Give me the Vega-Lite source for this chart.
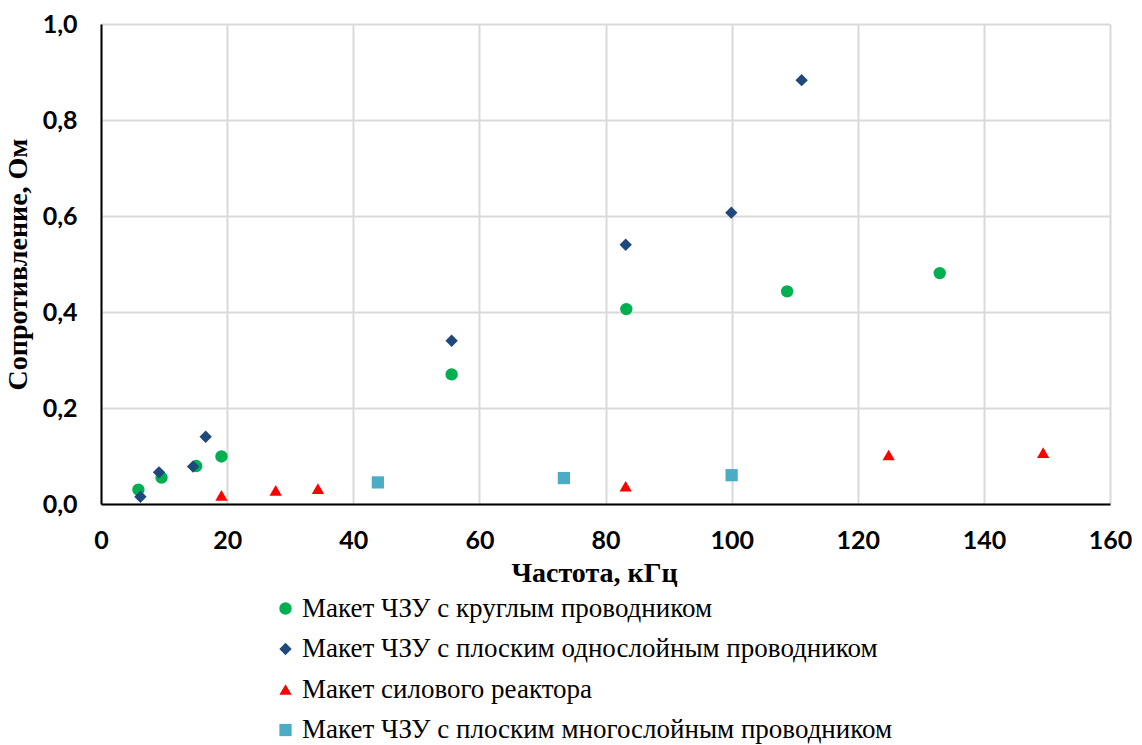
{
  "$schema": "https://vega.github.io/schema/vega-lite/v6.json",
  "width": 1009,
  "height": 480,
  "autosize": {"type": "none"},
  "padding": {"left": 101, "top": 24, "right": 32, "bottom": 241},
  "background": "white",
  "data": {
    "values": [
      {"f": 5.93, "r": 0.030, "s": "Макет ЧЗУ с круглым проводником"},
      {"f": 9.6, "r": 0.055, "s": "Макет ЧЗУ с круглым проводником"},
      {"f": 15.1, "r": 0.079, "s": "Макет ЧЗУ с круглым проводником"},
      {"f": 19.1, "r": 0.099, "s": "Макет ЧЗУ с круглым проводником"},
      {"f": 55.6, "r": 0.270, "s": "Макет ЧЗУ с круглым проводником"},
      {"f": 83.3, "r": 0.406, "s": "Макет ЧЗУ с круглым проводником"},
      {"f": 108.8, "r": 0.443, "s": "Макет ЧЗУ с круглым проводником"},
      {"f": 133.0, "r": 0.481, "s": "Макет ЧЗУ с круглым проводником"},
      {"f": 6.25, "r": 0.015, "s": "Макет ЧЗУ с плоским однослойным проводником"},
      {"f": 9.2, "r": 0.066, "s": "Макет ЧЗУ с плоским однослойным проводником"},
      {"f": 14.6, "r": 0.078, "s": "Макет ЧЗУ с плоским однослойным проводником"},
      {"f": 16.6, "r": 0.140, "s": "Макет ЧЗУ с плоским однослойным проводником"},
      {"f": 55.6, "r": 0.340, "s": "Макет ЧЗУ с плоским однослойным проводником"},
      {"f": 83.2, "r": 0.540, "s": "Макет ЧЗУ с плоским однослойным проводником"},
      {"f": 99.95, "r": 0.607, "s": "Макет ЧЗУ с плоским однослойным проводником"},
      {"f": 111.1, "r": 0.883, "s": "Макет ЧЗУ с плоским однослойным проводником"},
      {"f": 19.1, "r": 0.018, "s": "Макет силового реактора"},
      {"f": 27.7, "r": 0.0285, "s": "Макет силового реактора"},
      {"f": 34.4, "r": 0.032, "s": "Макет силового реактора"},
      {"f": 83.2, "r": 0.037, "s": "Макет силового реактора"},
      {"f": 124.9, "r": 0.102, "s": "Макет силового реактора"},
      {"f": 149.4, "r": 0.107, "s": "Макет силового реактора"},
      {"f": 43.9, "r": 0.045, "s": "Макет ЧЗУ с плоским многослойным проводником"},
      {"f": 73.4, "r": 0.054, "s": "Макет ЧЗУ с плоским многослойным проводником"},
      {"f": 100.0, "r": 0.060, "s": "Макет ЧЗУ с плоским многослойным проводником"}
    ]
  },
  "mark": {"type": "point", "filled": true, "opacity": 1, "strokeWidth": 0},
  "encoding": {
    "x": {
      "field": "f", "type": "quantitative",
      "scale": {"domain": [0, 160], "nice": false, "zero": false},
      "axis": {
        "values": [0, 20, 40, 60, 80, 100, 120, 140, 160],
        "title": "Частота, кГц",
        "titlePadding": 6,
        "titleX": 493
      }
    },
    "y": {
      "field": "r", "type": "quantitative",
      "scale": {"domain": [0, 1], "nice": false},
      "axis": {
        "values": [0, 0.2, 0.4, 0.6, 0.8, 1.0],
        "labelExpr": "replace(format(datum.value, '.1f'), '.', ',')",
        "title": "Сопротивление, Ом",
        "titlePadding": 10
      }
    },
    "color": {
      "field": "s", "type": "nominal",
      "scale": {
        "domain": ["Макет ЧЗУ с круглым проводником", "Макет ЧЗУ с плоским однослойным проводником", "Макет силового реактора", "Макет ЧЗУ с плоским многослойным проводником"],
        "range": ["#00B050", "#1F497D", "#FF0000", "#4BACC6"]
      },
      "legend": {
        "title": null,
        "orient": "none",
        "legendX": 171,
        "legendY": 571,
        "direction": "vertical"
      }
    },
    "shape": {
      "field": "s", "type": "nominal",
      "scale": {
        "domain": ["Макет ЧЗУ с круглым проводником", "Макет ЧЗУ с плоским однослойным проводником", "Макет силового реактора", "Макет ЧЗУ с плоским многослойным проводником"],
        "range": ["circle", "diamond", "triangle-up", "square"]
      },
      "legend": {
        "title": null,
        "orient": "none",
        "legendX": 171,
        "legendY": 571,
        "direction": "vertical"
      }
    },
    "size": {
      "field": "s", "type": "nominal",
      "scale": {
        "domain": ["Макет ЧЗУ с круглым проводником", "Макет ЧЗУ с плоским однослойным проводником", "Макет силового реактора", "Макет ЧЗУ с плоским многослойным проводником"],
        "range": [154, 150, 170, 100]
      },
      "legend": null
    }
  },
  "config": {
    "view": {"stroke": null},
    "axis": {
      "grid": true,
      "gridColor": "#D9D9D9",
      "gridWidth": 2,
      "domainColor": "#000000",
      "domainWidth": 2,
      "ticks": false,
      "tickSize": 0,
      "labelFont": "Lato",
      "labelFontWeight": "bold",
      "labelFontSize": 25,
      "labelColor": "#000000",
      "titleFont": "Liberation Serif",
      "titleFontWeight": "bold",
      "titleFontSize": 28,
      "titleColor": "#000000",
      "labelOverlap": false,
      "labelFlush": false
    },
    "axisX": {"labelPadding": 24},
    "axisY": {"labelPadding": 24},
    "legend": {
      "labelFont": "Liberation Serif",
      "labelFontSize": 27,
      "labelColor": "#000000",
      "labelLimit": 0,
      "labelOffset": 3,
      "rowPadding": 12.5,
      "symbolSize": 80,
      "symbolStrokeWidth": 0
    }
  }
}
